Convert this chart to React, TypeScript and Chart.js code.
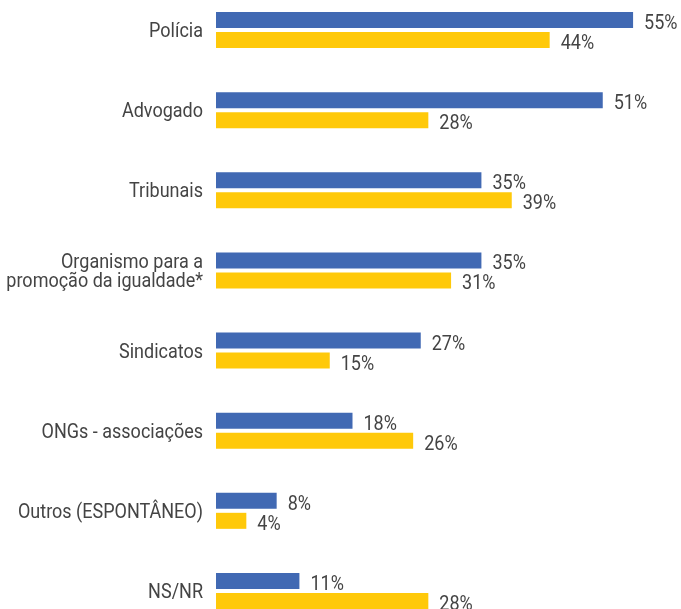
import React, { useEffect, useRef } from "react";
import { Chart, registerables } from "chart.js";

Chart.register(...registerables);

const categories: string[][] = [
  ["Polícia"],
  ["Advogado"],
  ["Tribunais"],
  ["Organismo para a", "promoção da igualdade*"],
  ["Sindicatos"],
  ["ONGs - associações"],
  ["Outros (ESPONTÂNEO)"],
  ["NS/NR"],
];
const seriesA = [55, 51, 35, 35, 27, 18, 8, 11];
const seriesB = [44, 28, 39, 31, 15, 26, 4, 28];
const seriesNames = ["Série A", "Série B"];

const FONT = 'Roboto, "Liberation Sans", sans-serif';
const FONT_SIZE = 20;
const SQUEEZE = 0.9;
const TEXT = "#444444";
const LINE_H = 19;

function drawText(ctx: any, text: string, x: number, y: number, align: "left" | "right") {
  ctx.save();
  ctx.translate(x, y);
  ctx.scale(SQUEEZE, 1);
  ctx.textAlign = align;
  ctx.textBaseline = "alphabetic";
  ctx.fillText(text, 0, 0);
  ctx.restore();
}

const textPlugin = {
  id: "textPlugin",
  afterDatasetsDraw(chart: any) {
    const ctx = chart.ctx;
    ctx.save();
    ctx.font = `400 ${FONT_SIZE}px ${FONT}`;
    ctx.fillStyle = TEXT;
    // value labels
    chart.data.datasets.forEach((ds: any, di: number) => {
      const meta = chart.getDatasetMeta(di);
      meta.data.forEach((bar: any, i: number) => {
        drawText(ctx, `${ds.data[i]}%`, bar.x + 11, bar.y + 9, "left");
      });
    });
    // category labels
    const yScale = chart.scales.y;
    const xRight = chart.chartArea.left - 13;
    categories.forEach((lines, i) => {
      const cy = yScale.getPixelForValue(i);
      const n = lines.length;
      lines.forEach((line, k) => {
        const base = cy + 7 + (k - (n - 1) / 2) * LINE_H;
        drawText(ctx, line, xRight, base, "right");
      });
    });
    ctx.restore();
  },
};

export default function App() {
  const ref = useRef<HTMLCanvasElement>(null);
  useEffect(() => {
    if (!ref.current) return;
    const chart = new Chart(ref.current, {
      type: "bar",
      data: {
        labels: categories.map((c) => c.join(" ")),
        datasets: [
          { label: seriesNames[0], data: seriesA, backgroundColor: "#4169B3" },
          { label: seriesNames[1], data: seriesB, backgroundColor: "#FFC90A" },
        ],
      },
      options: {
        indexAxis: "y",
        animation: false,
        responsive: true,
        maintainAspectRatio: false,
        datasets: { bar: { categoryPercentage: 0.5, barPercentage: 0.8 } } as any,
        layout: { padding: { top: 0, bottom: 0, left: 0, right: 10 } },
        plugins: { legend: { display: false }, tooltip: { enabled: false } },
        scales: {
          x: { display: false, min: 0, max: 60 },
          y: {
            grid: { display: false },
            border: { display: false },
            ticks: { display: false },
            afterFit: (scale: any) => {
              scale.width = 216;
              scale.paddingTop = 0;
              scale.paddingBottom = 0;
            },
          },
        },
      },
      plugins: [textPlugin],
    });
    return () => chart.destroy();
  }, []);
  return (
    <div style={{ position: "fixed", inset: 0, overflow: "hidden", background: "#fff" }}>
      <div style={{ position: "absolute", left: 0, top: -10, width: 681, height: 641 }}>
        <canvas ref={ref} />
      </div>
    </div>
  );
}
